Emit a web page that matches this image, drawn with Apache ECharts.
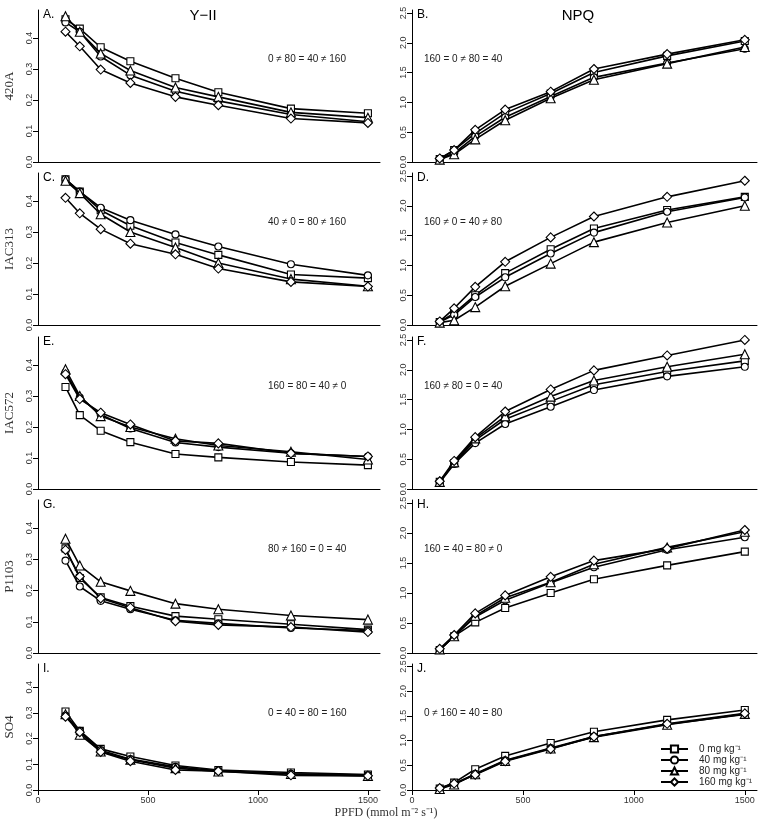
<!DOCTYPE html>
<html>
<head>
<meta charset="utf-8">
<style>
  html, body { margin: 0; padding: 0; background: #fff; }
  #chart { width: 761px; height: 823px; }
</style>
<script src="https://cdn.jsdelivr.net/npm/echarts@6/dist/echarts.min.js"></script>
</head>
<body>
<div id="chart"></div>
<script>
// light levels (PPFD)
const ppfd = [125, 190, 285, 420, 625, 820, 1150, 1500];
const doses = ['0 mg kg⁻¹', '40 mg kg⁻¹', '80 mg kg⁻¹', '160 mg kg⁻¹'];
const cultivars = ['420A', 'IAC313', 'IAC572', 'P1103', 'SO4'];
const letters = ['A.', 'B.', 'C.', 'D.', 'E.', 'F.', 'G.', 'H.', 'I.', 'J.'];
const xTicks = [0, 500, 1000, 1500];
const yiiTicks = [0, 0.1, 0.2, 0.3, 0.4];
const npqTicks = [0, 0.5, 1, 1.5, 2, 2.5];

// Y(II), rows = dose 0, 40, 80, 160
const yii420A = [
  [0.46, 0.43, 0.37, 0.325, 0.27, 0.225, 0.172, 0.157],
  [0.45, 0.42, 0.34, 0.28, 0.228, 0.197, 0.153, 0.13],
  [0.47, 0.42, 0.35, 0.295, 0.24, 0.21, 0.16, 0.143],
  [0.42, 0.373, 0.298, 0.255, 0.21, 0.183, 0.14, 0.126]
];
const yiiIAC313 = [
  [0.47, 0.43, 0.37, 0.32, 0.266, 0.226, 0.163, 0.151],
  [0.47, 0.43, 0.378, 0.338, 0.292, 0.253, 0.196, 0.16],
  [0.465, 0.425, 0.357, 0.30, 0.25, 0.2, 0.148, 0.125],
  [0.41, 0.36, 0.309, 0.262, 0.228, 0.182, 0.139, 0.124]
];
const yiiIAC572 = [
  [0.329, 0.238, 0.188, 0.151, 0.113, 0.102, 0.087, 0.077],
  [0.375, 0.295, 0.24, 0.195, 0.15, 0.135, 0.115, 0.105],
  [0.386, 0.3, 0.235, 0.2, 0.162, 0.14, 0.12, 0.095],
  [0.37, 0.29, 0.246, 0.208, 0.155, 0.147, 0.115, 0.105]
];
const yiiP1103 = [
  [0.335, 0.24, 0.178, 0.15, 0.118, 0.108, 0.092, 0.075],
  [0.296, 0.213, 0.167, 0.14, 0.105, 0.095, 0.08, 0.072],
  [0.366, 0.28, 0.228, 0.199, 0.158, 0.14, 0.12, 0.107],
  [0.33, 0.245, 0.175, 0.145, 0.102, 0.09, 0.083, 0.067]
];
const yiiSO4 = [
  [0.305, 0.23, 0.16, 0.13, 0.095, 0.078, 0.068, 0.06],
  [0.29, 0.23, 0.155, 0.12, 0.09, 0.075, 0.063, 0.058],
  [0.295, 0.215, 0.15, 0.118, 0.085, 0.072, 0.062, 0.055],
  [0.285, 0.225, 0.148, 0.112, 0.078, 0.073, 0.057, 0.055]
];

// NPQ
const npq420A = [
  [0.05, 0.2, 0.48, 0.82, 1.15, 1.5, 1.78, 2.03],
  [0.05, 0.15, 0.43, 0.75, 1.1, 1.42, 1.66, 1.9],
  [0.04, 0.13, 0.38, 0.7, 1.07, 1.38, 1.65, 1.93],
  [0.06, 0.2, 0.54, 0.88, 1.18, 1.56, 1.81, 2.05]
];
const npqIAC313 = [
  [0.05, 0.2, 0.5, 0.87, 1.27, 1.62, 1.93, 2.15],
  [0.05, 0.17, 0.47, 0.8, 1.2, 1.55, 1.9, 2.14],
  [0.04, 0.08, 0.3, 0.65, 1.03, 1.39, 1.72, 2.0],
  [0.06, 0.28, 0.64, 1.06, 1.47, 1.82, 2.15, 2.42]
];
const npqIAC572 = [
  [0.12, 0.43, 0.82, 1.17, 1.47, 1.75, 1.97, 2.15],
  [0.11, 0.42, 0.77, 1.09, 1.38, 1.66, 1.89, 2.05],
  [0.12, 0.45, 0.85, 1.22, 1.55, 1.82, 2.05, 2.26],
  [0.13, 0.47, 0.87, 1.3, 1.67, 1.99, 2.24, 2.5]
];
const npqP1103 = [
  [0.05, 0.28, 0.51, 0.75, 1.0, 1.23, 1.46, 1.69],
  [0.05, 0.28, 0.6, 0.88, 1.17, 1.43, 1.72, 1.93],
  [0.06, 0.28, 0.62, 0.92, 1.18, 1.48, 1.76, 2.02],
  [0.07, 0.3, 0.66, 0.96, 1.27, 1.54, 1.74, 2.05]
];
const npqSO4 = [
  [0.03, 0.15, 0.42, 0.69, 0.95, 1.18, 1.42, 1.62],
  [0.03, 0.12, 0.33, 0.6, 0.85, 1.08, 1.33, 1.53],
  [0.02, 0.11, 0.32, 0.59, 0.84, 1.07, 1.32, 1.54],
  [0.04, 0.13, 0.31, 0.58, 0.83, 1.08, 1.34, 1.55]
];

// Tukey groupings printed in each panel
const yiiNotes = ['0 ≠ 80 = 40 ≠ 160', '40 ≠ 0 = 80 ≠ 160', '160 = 80 = 40 ≠ 0', '80 ≠ 160 = 0 = 40', '0 = 40 = 80 = 160'];
const npqNotes = ['160 = 0 ≠ 80 = 40', '160 ≠ 0 = 40 ≠ 80', '160 ≠ 80 = 0 = 40', '160 = 40 = 80 ≠ 0', '0 ≠ 160 = 40 = 80'];

const yiiData = [yii420A, yiiIAC313, yiiIAC572, yiiP1103, yiiSO4];
const npqData = [npq420A, npqIAC313, npqIAC572, npqP1103, npqSO4];

const symbols = ['rect', 'circle', 'triangle', 'diamond'];
const symbolSizes = [7, 7, 9, 9];
const rowTop = [10, 173, 337, 500, 664];
const rowH = [152, 152, 152, 153, 126];
const colLeft = [38, 412];
const colW = [342, 345];

const grids = [], xAxes = [], yAxes = [], series = [], graphics = [];

for (let r = 0; r < 5; r++) {
  for (let c = 0; c < 2; c++) {
    const idx = grids.length;
    const last = r === 4;
    grids.push({ left: colLeft[c], top: rowTop[r], width: colW[c], height: rowH[r] });
    xAxes.push({
      gridIndex: idx, type: 'value', min: 0, max: 1555,
      axisLine: { lineStyle: { color: '#000', width: 1 } },
      axisTick: { show: last, length: 5, customValues: xTicks, lineStyle: { color: '#000' } },
      axisLabel: {
        show: last, customValues: xTicks, color: '#333', fontSize: 9, fontFamily: 'Liberation Sans', margin: 6,
        formatter: v => String(v)
      },
      splitLine: { show: false }
    });
    const ticks = c === 0 ? yiiTicks : npqTicks;
    yAxes.push({
      gridIndex: idx, type: 'value', min: 0, max: c === 0 ? 0.49 : 2.55,
      name: c === 0 ? cultivars[r] : '',
      nameLocation: 'middle', nameGap: 22, nameRotate: 90,
      nameTextStyle: { fontFamily: 'Liberation Serif', fontSize: 13, color: '#333' },
      axisLine: { show: true, lineStyle: { color: '#000', width: 1 } },
      axisTick: { show: true, length: 5, customValues: ticks, lineStyle: { color: '#000' } },
      axisLabel: {
        customValues: ticks, rotate: 90, color: '#333', fontSize: 9, fontFamily: 'Liberation Sans', margin: 4,
        formatter: v => v.toFixed(1)
      },
      splitLine: { show: false }
    });
    const data = c === 0 ? yiiData[r] : npqData[r];
    data.forEach((vals, d) => {
      series.push({
        name: doses[d], type: 'line', xAxisIndex: idx, yAxisIndex: idx,
        data: ppfd.map((x, i) => [x, vals[i]]),
        symbol: symbols[d], symbolSize: symbolSizes[d],
        showAllSymbol: true,
        lineStyle: { color: '#000', width: 1.6 },
        itemStyle: { color: '#fff', borderColor: '#000', borderWidth: 1.1 },
        z: 2 + d
      });
    });
    graphics.push({
      type: 'text', x: colLeft[c] + 5, y: rowTop[r] + 5,
      style: { text: letters[idx], font: '12px "Liberation Sans"', fill: '#000', align: 'left', verticalAlign: 'middle' }
    });
    graphics.push({
      type: 'text', x: c === 0 ? 268 : 424, y: rowTop[r] + 49,
      style: { text: c === 0 ? yiiNotes[r] : npqNotes[r], font: '10px "Liberation Sans"', fill: '#222', align: 'left', verticalAlign: 'middle' }
    });
  }
}

graphics.push({ type: 'text', x: 203, y: 16, style: { text: 'Y−II', font: '15px "Liberation Sans"', fill: '#000', align: 'center', verticalAlign: 'middle' } });
graphics.push({ type: 'text', x: 578, y: 16, style: { text: 'NPQ', font: '15px "Liberation Sans"', fill: '#000', align: 'center', verticalAlign: 'middle' } });
graphics.push({ type: 'text', x: 386, y: 813, style: { text: 'PPFD (mmol m⁻² s⁻¹)', font: '12px "Liberation Serif"', fill: '#333', align: 'center', verticalAlign: 'middle' } });

const option = {
  animation: false,
  backgroundColor: '#fff',
  grid: grids,
  xAxis: xAxes,
  yAxis: yAxes,
  series: series,
  graphic: graphics,
  legend: {
    data: doses, orient: 'vertical', left: 655, top: 739,
    itemWidth: 27, itemHeight: 9, itemGap: 1,
    textStyle: { fontSize: 10, fontFamily: 'Liberation Sans', color: '#222', padding: [0, 0, 0, 6] }
  }
};

const myChart = echarts.init(document.getElementById('chart'));
myChart.setOption(option);
</script>
</body>
</html>
